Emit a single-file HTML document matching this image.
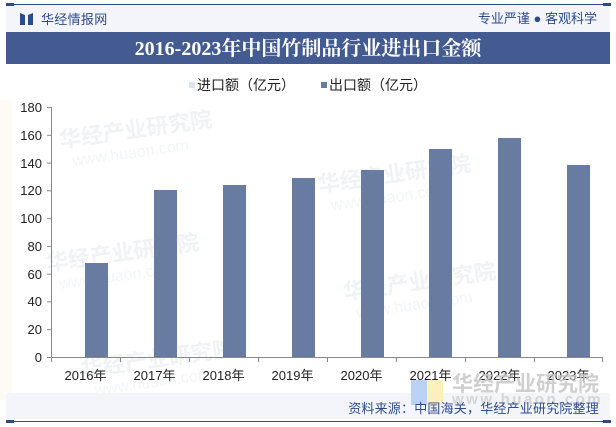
<!DOCTYPE html>
<html><head><meta charset="utf-8"><style>
html,body{margin:0;padding:0;background:#fff;}
svg{display:block;}
text{font-family:"Liberation Sans","Noto Sans CJK SC",sans-serif;}
</style></head><body>
<svg width="616" height="427" viewBox="0 0 616 427" xmlns="http://www.w3.org/2000/svg">
<rect width="616" height="427" fill="#fff"/>
<!-- faint side shapes -->
<rect x="0" y="100" width="12" height="300" fill="#fdf9ee" opacity="0.6"/>
<!-- watermarks -->
<g fill="#f1f2f5" font-weight="bold" font-size="22" transform="rotate(-8 300 200)">
<text x="70" y="115">华经产业研究院</text>
<text x="40" y="235">华经产业研究院</text>
<text x="320" y="195">华经产业研究院</text>
<text x="60" y="345">华经产业研究院</text>
<text x="330" y="305">华经产业研究院</text>
</g>
<g fill="#f4f5f7" font-size="16" transform="rotate(-8 300 200)">
<text x="80" y="135">www.huaon.com</text>
<text x="50" y="255">www.huaon.com</text>
<text x="330" y="215">www.huaon.com</text>
<text x="70" y="365">www.huaon.com</text>
<text x="340" y="325">www.huaon.com</text>
</g>
<!-- header -->
<rect x="6" y="4" width="604" height="28" fill="#f3f5fa"/>
<line x1="6" y1="4.5" x2="610" y2="4.5" stroke="#2f4a8a" stroke-width="1"/>
<rect x="6" y="3" width="8" height="3" fill="#2f4a8a"/>
<rect x="603" y="3" width="8" height="3" fill="#2f4a8a"/>
<polygon points="20,13 25,15 25,25 20,25" fill="#2f4a8a"/>
<polygon points="28,15 33,13 33,25 28,25" fill="#2f4a8a"/>
<text x="41" y="24" font-size="13" fill="#2f4a8a" letter-spacing="0.3">华经情报网</text>
<text x="597" y="23" font-size="13" fill="#2f4a8a" text-anchor="end">专业严谨 ● 客观科学</text>
<!-- title bar -->
<rect x="6" y="32" width="604" height="32" fill="#435b91"/>
<text x="308" y="55" font-size="20" font-weight="bold" fill="#fff" text-anchor="middle" style="font-family:'Liberation Serif','Noto Serif CJK SC',serif">2016-2023年中国竹制品行业进出口金额</text>
<!-- legend -->
<rect x="189" y="82" width="6" height="6" fill="#dde3ec"/>
<text x="197" y="90" font-size="14" fill="#222">进口额（亿元）</text>
<rect x="321" y="82" width="6" height="6" fill="#687ba0"/>
<text x="329" y="90" font-size="14" fill="#222">出口额（亿元）</text>
<!-- axes -->
<g stroke="#888" stroke-width="1">
<line x1="51.5" y1="107" x2="51.5" y2="357"/>
<line x1="51" y1="357.5" x2="603" y2="357.5"/>
<line x1="47" y1="107.5" x2="51" y2="107.5"/>
<line x1="47" y1="135.3" x2="51" y2="135.3"/>
<line x1="47" y1="163.1" x2="51" y2="163.1"/>
<line x1="47" y1="190.8" x2="51" y2="190.8"/>
<line x1="47" y1="218.6" x2="51" y2="218.6"/>
<line x1="47" y1="246.4" x2="51" y2="246.4"/>
<line x1="47" y1="274.2" x2="51" y2="274.2"/>
<line x1="47" y1="301.9" x2="51" y2="301.9"/>
<line x1="47" y1="329.7" x2="51" y2="329.7"/>
<line x1="47" y1="357.5" x2="51" y2="357.5"/>
<line x1="51.5" y1="357" x2="51.5" y2="362"/>
<line x1="120.5" y1="357" x2="120.5" y2="362"/>
<line x1="189.5" y1="357" x2="189.5" y2="362"/>
<line x1="258.5" y1="357" x2="258.5" y2="362"/>
<line x1="327.5" y1="357" x2="327.5" y2="362"/>
<line x1="396.5" y1="357" x2="396.5" y2="362"/>
<line x1="465.5" y1="357" x2="465.5" y2="362"/>
<line x1="534.5" y1="357" x2="534.5" y2="362"/>
<line x1="602.5" y1="357" x2="602.5" y2="362"/>
</g>
<g font-size="13" fill="#222" text-anchor="end">
<text x="42" y="112">180</text>
<text x="42" y="140">160</text>
<text x="42" y="168">140</text>
<text x="42" y="195">120</text>
<text x="42" y="223">100</text>
<text x="42" y="251">80</text>
<text x="42" y="279">60</text>
<text x="42" y="306">40</text>
<text x="42" y="334">20</text>
<text x="42" y="362">0</text>
</g>
<!-- bars -->
<g fill="#687ba0">
<rect x="85" y="263" width="23" height="94"/>
<rect x="154" y="190" width="23" height="167"/>
<rect x="223" y="185" width="23" height="172"/>
<rect x="292" y="178" width="23" height="179"/>
<rect x="361" y="170" width="23" height="187"/>
<rect x="429" y="149" width="23" height="208"/>
<rect x="498" y="138" width="23" height="219"/>
<rect x="567" y="165" width="23" height="192"/>
</g>
<g font-size="13" fill="#222" text-anchor="middle">
<text x="85.5" y="380">2016年</text>
<text x="154.5" y="380">2017年</text>
<text x="223.5" y="380">2018年</text>
<text x="292.5" y="380">2019年</text>
<text x="361.5" y="380">2020年</text>
<text x="430.5" y="380">2021年</text>
<text x="499.5" y="380">2022年</text>
<text x="568.5" y="380">2023年</text>
</g>
<!-- footer -->
<rect x="6" y="393" width="604" height="26" fill="#f3f5fa"/>
<line x1="6" y1="421.5" x2="610" y2="421.5" stroke="#2f4a8a" stroke-width="1"/>
<rect x="6" y="420" width="8" height="3" fill="#2f4a8a"/>
<rect x="603" y="420" width="8" height="3" fill="#2f4a8a"/>
<!-- bottom-right watermark -->
<rect x="411" y="380" width="16" height="25" fill="#aecbf3" opacity="0.85"/>
<rect x="427" y="380" width="16" height="25" fill="#fcefb0" opacity="0.85"/>
<text x="452" y="391" font-size="21" font-weight="bold" fill="#c4c4c4" opacity="0.8">华经产业研究院</text>
<text x="452" y="404" font-size="15" font-weight="bold" fill="#c8c8c8" letter-spacing="2.5" opacity="0.7">www.huaon.com</text>
<text x="599" y="413" font-size="13" fill="#2d4b8d" text-anchor="end" letter-spacing="0.2">资料来源：中国海关，华经产业研究院整理</text>
</svg>
</body></html>
